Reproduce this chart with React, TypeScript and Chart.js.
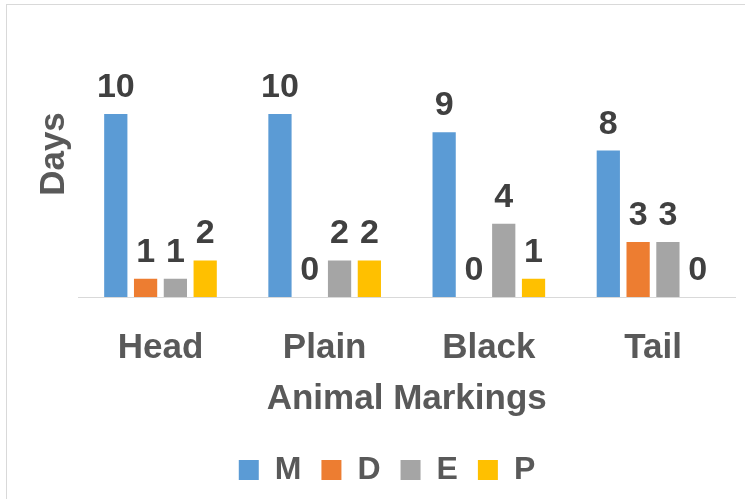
import React, { useEffect, useRef } from "react";
import { Chart, registerables } from "chart.js";

Chart.register(...registerables);

const categories = ["Head", "Plain", "Black", "Tail"];
const seriesNames = ["M", "D", "E", "P"];
const mValues = [10, 10, 9, 8];
const dValues = [1, 0, 0, 3];
const eValues = [1, 2, 4, 3];
const pValues = [2, 2, 1, 0];
const seriesColors = ["#5B9BD5", "#ED7D31", "#A5A5A5", "#FFC000"];
const yTitle = "Days";
const xTitle = "Animal Markings";

const FONT = "'Liberation Sans', Arial, sans-serif";

const dataLabelPlugin = {
  id: "dataLabels",
  afterDatasetsDraw(chart: any) {
    const ctx = chart.ctx;
    ctx.save();
    ctx.font = `bold 34px ${FONT}`;
    ctx.fillStyle = "#404040";
    ctx.textAlign = "center";
    ctx.textBaseline = "alphabetic";
    chart.data.datasets.forEach((ds: any, i: number) => {
      const meta = chart.getDatasetMeta(i);
      meta.data.forEach((el: any, j: number) => {
        ctx.fillText(String(ds.data[j]), el.x, el.y - 17);
      });
    });
    ctx.restore();
  },
};

export default function App() {
  const ref = useRef<HTMLCanvasElement | null>(null);
  useEffect(() => {
    if (!ref.current) return;
    const allValues = [mValues, dValues, eValues, pValues];
    const chart = new Chart(ref.current, {
      type: "bar",
      data: {
        labels: categories,
        datasets: seriesNames.map((name, i) => ({
          label: name,
          data: allValues[i],
          backgroundColor: seriesColors[i],
          borderWidth: 0,
          categoryPercentage: 0.726,
          barPercentage: 0.78,
        })),
      },
      options: {
        responsive: false,
        animation: false,
        devicePixelRatio: 1,
        layout: { padding: { top: 11, left: 0, right: 0, bottom: 0 } },
        plugins: {
          legend: {
            position: "bottom",
            labels: {
              boxWidth: 20,
              boxHeight: 20,
              padding: 20,
              color: "#595959",
              font: { family: FONT, size: 32, weight: "bold" },
            },
          },
          tooltip: { enabled: false },
        },
        scales: {
          x: {
            grid: { display: false, drawTicks: false },
            border: { display: true, color: "#D9D9D9", width: 1 },
            ticks: {
              color: "#595959",
              padding: 30.5,
              font: { family: FONT, size: 35, weight: "bold" },
            },
            title: {
              display: true,
              text: xTitle,
              color: "#595959",
              padding: { top: 0, bottom: 13.6 },
              font: { family: FONT, size: 35, weight: "bold" },
            },
            afterFit: (scale: any) => {
              scale.height = 137;
            },
          },
          y: {
            min: 0,
            max: 15.63,
            grid: { display: false, drawTicks: false },
            border: { display: false },
            ticks: { display: false },
            title: {
              display: true,
              text: yTitle,
              color: "#595959",
              padding: { top: 33, bottom: 0 },
              font: { family: FONT, size: 35, weight: "bold" },
            },
            afterFit: (scale: any) => {
              scale.width = 78.4;
            },
          },
          y2: {
            type: "linear",
            position: "right",
            display: true,
            grid: { display: false, drawTicks: false },
            border: { display: false },
            ticks: { display: false },
            afterFit: (scale: any) => {
              scale.width = 38.9;
            },
          },
        },
      },
      plugins: [dataLabelPlugin],
    } as any);
    return () => chart.destroy();
  }, []);

  return (
    <div
      style={{
        position: "fixed",
        left: 0,
        top: 0,
        width: 745,
        height: 499,
        overflow: "hidden",
        background: "#ffffff",
      }}
    >
      <div
        style={{
          position: "absolute",
          left: 6,
          top: 4,
          width: 760,
          height: 520,
          border: "1px solid #D9D9D9",
        }}
      />
      <canvas
        ref={ref}
        width={774}
        height={496}
        style={{ position: "absolute", left: 0, top: 0, display: "block" }}
      />
    </div>
  );
}
